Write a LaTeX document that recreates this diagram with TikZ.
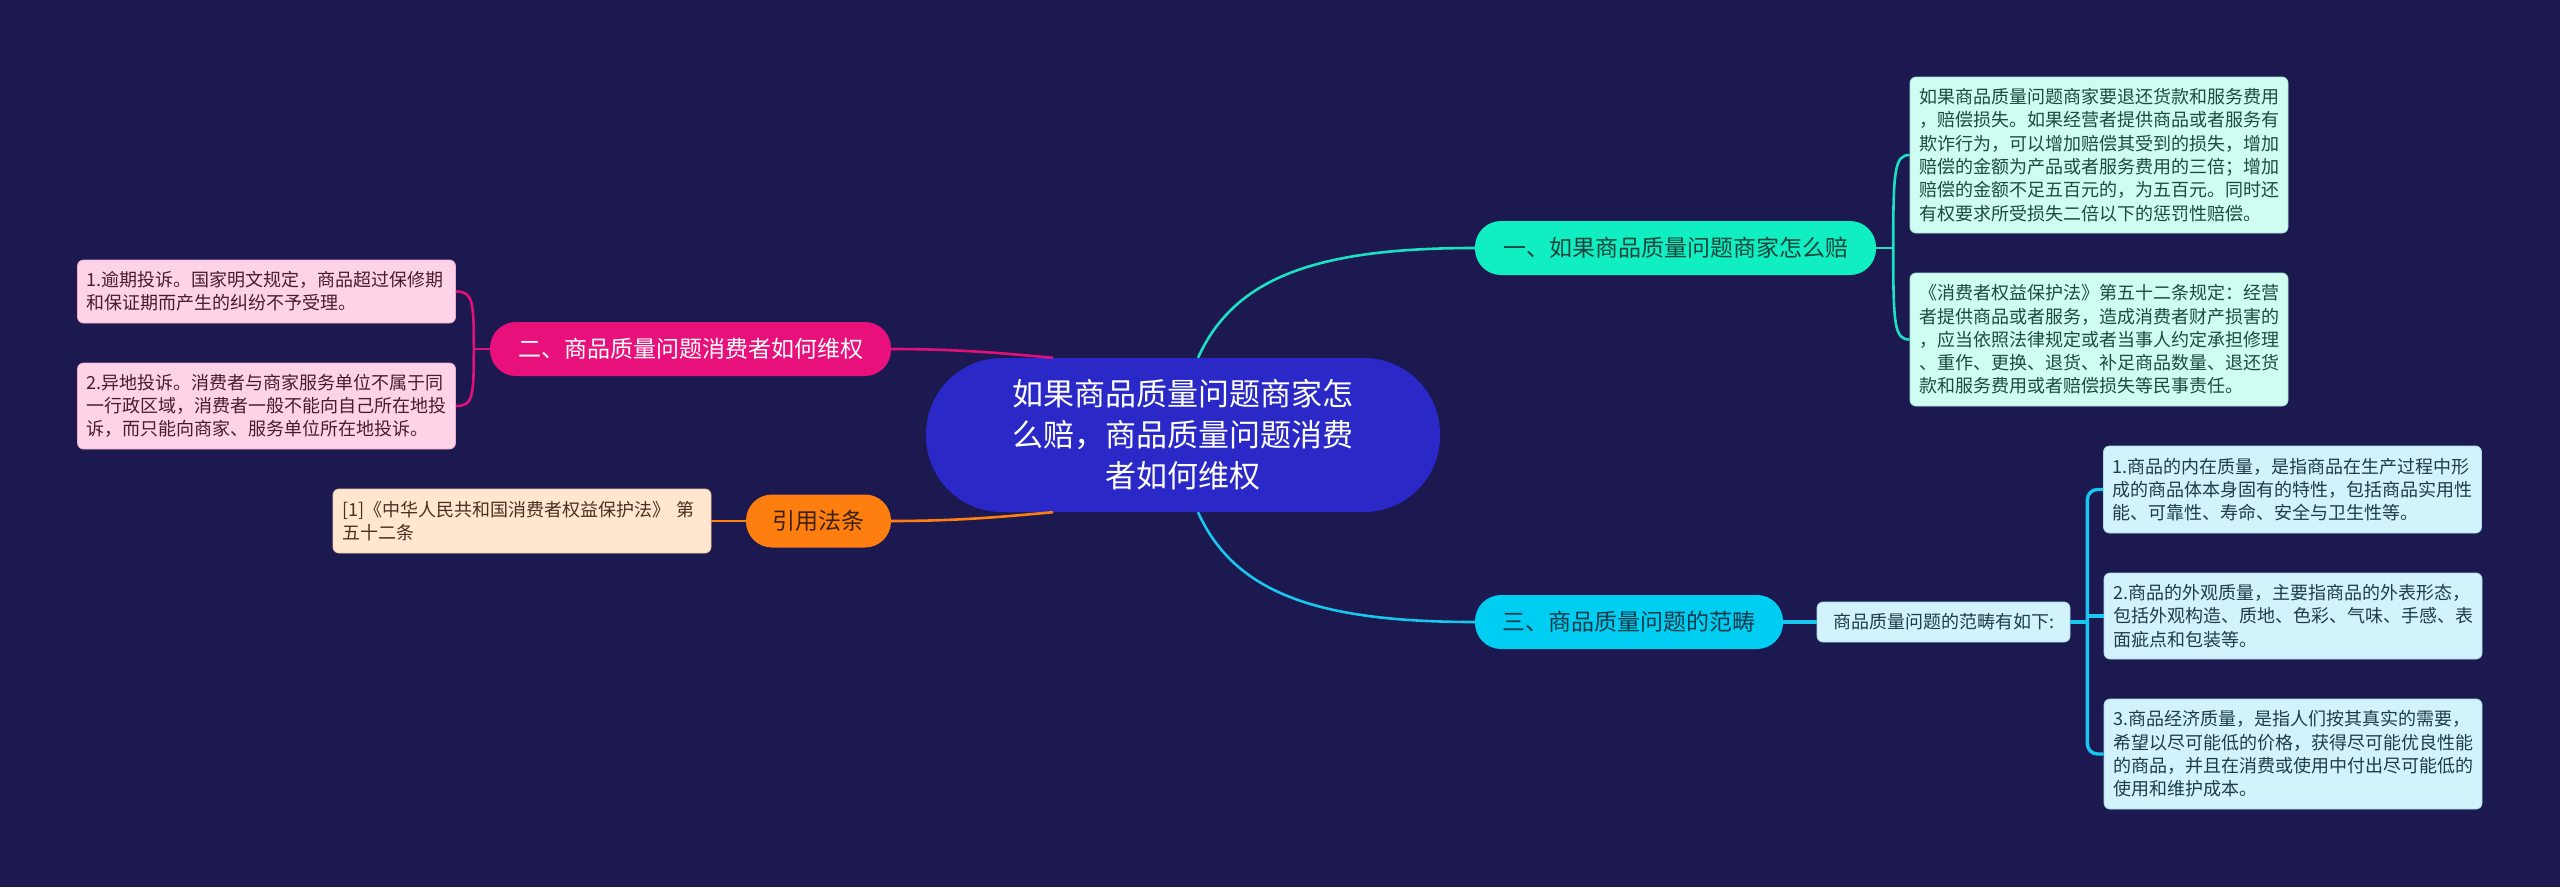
\documentclass[tikz,border=0pt]{standalone}
\usepackage{fontspec}
\setmainfont{Noto Sans CJK SC}
\definecolor{bg}{HTML}{1B1950}
\definecolor{cfill}{HTML}{2A29C8}
\definecolor{onefill}{HTML}{10EEC2}
\definecolor{threefill}{HTML}{00CDF2}
\definecolor{twofill}{HTML}{E8107A}
\definecolor{citefill}{HTML}{FF7E10}
\definecolor{onetext}{HTML}{14453C}
\definecolor{threetext}{HTML}{0F3A4A}
\definecolor{citetext}{HTML}{3A2208}
\definecolor{onelink}{HTML}{1CE0C2}
\definecolor{threelink}{HTML}{18C6F0}
\definecolor{twolink}{HTML}{E0127A}
\definecolor{citelink}{HTML}{FF7E10}
\definecolor{rfill}{HTML}{CFFDF1}
\definecolor{rdraw}{HTML}{A8E6D8}
\definecolor{rtext}{HTML}{1F4A40}
\definecolor{lfill}{HTML}{D2F3FC}
\definecolor{ldraw}{HTML}{A6DCEB}
\definecolor{ltext}{HTML}{1E3C4A}
\definecolor{pfill}{HTML}{FFD3E7}
\definecolor{pdraw}{HTML}{F0AACB}
\definecolor{ptext}{HTML}{4A1A30}
\definecolor{ofill}{HTML}{FFE6CE}
\definecolor{odraw}{HTML}{F0C8A4}
\definecolor{otext}{HTML}{4A3020}
\begin{document}
\begin{tikzpicture}[x=1pt,y=-1pt,
  leafbox/.style={line width=0.8pt, rounded corners=6pt, inner xsep=9pt, inner ysep=0pt,
    text width=360pt, align=left, font=\fontsize{18}{23.3}\selectfont},
  rleaf/.style={leafbox, fill=rfill, draw=rdraw, text=rtext},
  cleaf/.style={leafbox, fill=lfill, draw=ldraw, text=ltext},
  pleaf/.style={leafbox, fill=pfill, draw=pdraw, text=ptext},
  oleaf/.style={leafbox, fill=ofill, draw=odraw, text=otext},
  topic/.style={rounded corners=26pt, inner sep=0pt, minimum height=54pt,
    font=\fontsize{23}{28}\selectfont},
  centre/.style={fill=cfill, text=white, rounded corners=76pt, inner sep=0pt,
    minimum width=514pt, minimum height=154pt, align=center,
    font=\fontsize{31}{41}\selectfont},
  linkone/.style={draw=onelink, line width=2.6pt},
  linkthree/.style={draw=threelink, line width=2.6pt},
  linkthreew/.style={draw=threelink, line width=3.4pt},
  linktwo/.style={draw=twolink, line width=2.6pt},
  linkcite/.style={draw=citelink, line width=2.6pt}
]
\fill[bg] (0,0) rectangle (2560,887);
\useasboundingbox (0,0) rectangle (2560,887);

% central and main topics
\node[centre] (c) at (1183,435) {如果商品质量问题商家怎\\么赔，商品质量问题消费\\者如何维权};
\node[topic, fill=onefill, text=onetext, minimum width=401pt] (b1) at (1675.5,248) {一、如果商品质量问题商家怎么赔};
\node[topic, fill=threefill, text=threetext, minimum width=308pt] (b3) at (1629,622) {三、商品质量问题的范畴};
\node[topic, fill=twofill, text=white, minimum width=401pt] (b2) at (690.5,349) {二、商品质量问题消费者如何维权};
\node[topic, fill=citefill, text=citetext, minimum width=145pt, minimum height=53pt] (b4) at (818.5,521) {引用法条};

% right upper leaves
\node[rleaf, minimum height=156pt] (r1) at (2099,155) {如果商品质量问题商家要退还货款和服务费用\\，赔偿损失。如果经营者提供商品或者服务有\\欺诈行为，可以增加赔偿其受到的损失，增加\\赔偿的金额为产品或者服务费用的三倍；增加\\赔偿的金额不足五百元的，为五百元。同时还\\有权要求所受损失二倍以下的惩罚性赔偿。};
\node[rleaf, minimum height=133pt] (r2) at (2099,339.5) {《消费者权益保护法》第五十二条规定：经营\\者提供商品或者服务，造成消费者财产损害的\\，应当依照法律规定或者当事人约定承担修理\\、重作、更换、退货、补足商品数量、退还货\\款和服务费用或者赔偿损失等民事责任。};

% right lower leaves
\node[fill=lfill, draw=ldraw, text=ltext, line width=0.8pt, rounded corners=6pt, inner sep=0pt,
  minimum width=253pt, minimum height=40pt, font=\fontsize{18}{23.3}\selectfont] (m) at (1943.5,622) {商品质量问题的范畴有如下:};
\node[cleaf, minimum height=87pt] (l1) at (2292.5,489.5) {1.商品的内在质量，是指商品在生产过程中形\\成的商品体本身固有的特性，包括商品实用性\\能、可靠性、寿命、安全与卫生性等。};
\node[cleaf, minimum height=86pt] (l2) at (2293,616) {2.商品的外观质量，主要指商品的外表形态，\\包括外观构造、质地、色彩、气味、手感、表\\面疵点和包装等。};
\node[cleaf, minimum height=110pt] (l3) at (2293,754) {3.商品经济质量，是指人们按其真实的需要，\\希望以尽可能低的价格，获得尽可能优良性能\\的商品，并且在消费或使用中付出尽可能低的\\使用和维护成本。};

% left leaves
\node[pleaf, minimum height=63pt] (ll1) at (266.5,291.5) {1.逾期投诉。国家明文规定，商品超过保修期\\和保证期而产生的纠纷不予受理。};
\node[pleaf, minimum height=86pt] (ll2) at (266.5,406) {2.异地投诉。消费者与商家服务单位不属于同\\一行政区域，消费者一般不能向自己所在地投\\诉，而只能向商家、服务单位所在地投诉。};
\node[oleaf, minimum height=64pt] (ct) at (522,521) {[1]《中华人民共和国消费者权益保护法》 第\\五十二条};

% central connectors
\draw[linkone] ([xshift=15pt]c.north) .. controls +(37,-82) and +(-155,0) .. (b1.west);
\draw[linkthree] ([xshift=15pt]c.south) .. controls +(37,82) and +(-155,0) .. (b3.west);
\draw[linktwo] (b2.east) .. controls +(70,0) and +(-45,-4) .. ([xshift=-130pt]c.north);
\draw[linkcite] (b4.east) .. controls +(70,0) and +(-45,4) .. ([xshift=-130pt]c.south);

% right upper bracket
\coordinate (j1) at ([xshift=17pt]b1.east);
\draw[linkone] (b1.east) -- (j1);
\draw[linkone] (j1) .. controls +(0,-78) and +(-15,0) .. (r1.west);
\draw[linkone] (j1) .. controls +(0,78) and +(-15,0) .. (r2.west);

% right lower connectors
\draw[linkthreew] (b3.east) -- (m.west);
\coordinate (j3) at ([xshift=17pt]m.east);
\draw[linkthreew] (m.east) -- (j3);
\draw[linkthreew, rounded corners=10pt] (j3) |- (l1.west);
\draw[linkthreew, rounded corners=10pt] (j3) |- (l3.west);
\draw[linkthreew] (j3 |- l2.west) -- (l2.west);

% left bracket
\coordinate (j2) at ([xshift=-16pt]b2.west);
\draw[linktwo] (b2.west) -- (j2);
\draw[linktwo] (j2) .. controls +(0,-48) and +(17,0) .. (ll1.east);
\draw[linktwo] (j2) .. controls +(0,48) and +(17,0) .. (ll2.east);

% citation
\draw[linkcite] (b4.west) -- (ct.east);
\end{tikzpicture}
\end{document}
